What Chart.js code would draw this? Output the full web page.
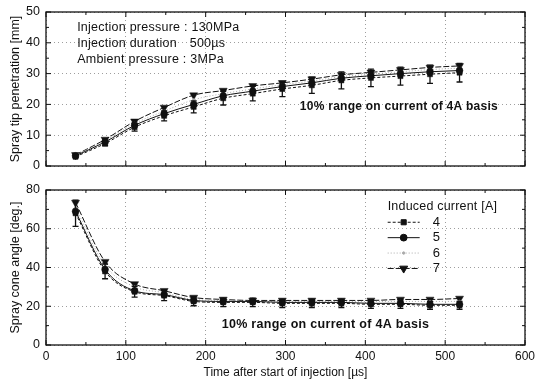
<!DOCTYPE html>
<html>
<head>
<meta charset="utf-8">
<script src="https://cdn.jsdelivr.net/npm/chart.js@4.4.0/dist/chart.umd.min.js"></script>
<style>
  html, body { margin: 0; padding: 0; background: #fff; }
  #wrap { position: relative; width: 535px; height: 380px; }
  canvas { position: absolute; left: 0; }
  #tipChart { top: 0; }
  #coneChart { top: 180px; }
</style>
</head>
<body>
<div id="wrap">
  <canvas id="tipChart" width="535" height="180"></canvas>
  <canvas id="coneChart" width="535" height="200"></canvas>
</div>
<script>
// time after start of injection [us]
const times = [37, 74, 111, 148, 185, 222, 259, 296, 333, 370, 407, 444, 481, 518];
const currents = ['4', '5', '6', '7'];

// spray tip penetration [mm]
const tip4 = [3.0, 7.3, 12.6, 16.3, 19.2, 22.0, 23.5, 25.0, 26.2, 27.8, 28.6, 29.2, 29.8, 30.3];
const tip5 = [3.3, 7.8, 13.2, 17.0, 20.0, 22.8, 24.3, 25.8, 27.0, 28.5, 29.3, 30.0, 30.6, 31.0];
const tip6 = [3.5, 8.2, 13.8, 17.8, 21.5, 23.5, 25.0, 26.4, 27.6, 29.0, 29.8, 30.6, 31.3, 31.8];
const tip7 = [3.6, 8.6, 14.5, 19.0, 23.0, 24.5, 26.0, 27.0, 28.2, 29.6, 30.4, 31.2, 32.0, 32.5];

// spray cone angle [deg.]
const cone4 = [68.0, 38.0, 27.5, 25.5, 22.5, 22.0, 22.0, 21.5, 21.5, 21.5, 21.0, 21.0, 20.5, 20.5];
const cone5 = [69.0, 39.0, 28.0, 26.0, 23.0, 22.5, 22.5, 22.0, 22.0, 22.0, 21.5, 21.5, 21.0, 21.0];
const cone6 = [71.0, 41.0, 30.0, 27.0, 23.5, 23.0, 22.5, 22.5, 22.5, 22.5, 22.5, 22.5, 22.5, 22.5];
const cone7 = [73.5, 43.0, 31.5, 28.0, 24.5, 23.5, 23.0, 23.0, 23.0, 23.0, 23.0, 23.5, 23.5, 24.0];

// whiskers: 10% range around the 4A series
const rangeFraction = 0.10;
const rangeSeries = 0;

const xTicks = [0, 100, 200, 300, 400, 500, 600];
const tipTicks = [0, 10, 20, 30, 40, 50];
const coneTicks = [0, 20, 40, 60, 80];

const FONT = "'Liberation Sans', Arial, Helvetica, sans-serif";
Chart.defaults.font.family = FONT;
Chart.defaults.color = '#111';

const styles = [
  { dash: [3, 2], pointStyle: 'rect', radius: 3.6, rotation: 0, color: '#111' },
  { dash: [], pointStyle: 'circle', radius: 3.4, rotation: 0, color: '#111' },
  { dash: [1, 2], pointStyle: 'circle', radius: 1.2, rotation: 0, color: '#aaa' },
  { dash: [6, 2], pointStyle: 'triangle', radius: 4.6, rotation: 180, color: '#111' }
];

function makeSets(series) {
  return series.map((vals, k) => ({
    label: currents[k],
    data: times.map((t, i) => ({ x: t, y: vals[i] })),
    borderColor: styles[k].color,
    backgroundColor: styles[k].color,
    borderWidth: 1,
    borderDash: styles[k].dash,
    pointStyle: styles[k].pointStyle,
    pointRadius: styles[k].radius,
    pointRotation: styles[k].rotation,
    pointBorderWidth: 0.5,
    cubicInterpolationMode: 'monotone',
    fill: false
  }));
}

// frame around the plot with inward major/minor tick marks on all sides
const framePlugin = {
  id: 'frame',
  afterDraw(chart) {
    const { ctx, chartArea: a, scales } = chart;
    ctx.save();
    ctx.strokeStyle = '#111';
    ctx.lineWidth = 1.3;
    ctx.strokeRect(a.left, a.top, a.right - a.left, a.bottom - a.top);
    ctx.lineWidth = 1;
    ctx.beginPath();
    const xs = scales.x, ys = scales.y;
    const xStep = xTicks[1] - xTicks[0];
    for (let v = xs.min; v <= xs.max; v += xStep / 2) {
      const px = xs.getPixelForValue(v);
      const len = (v % xStep === 0) ? 5 : 3;
      ctx.moveTo(px, a.bottom); ctx.lineTo(px, a.bottom - len);
      ctx.moveTo(px, a.top); ctx.lineTo(px, a.top + len);
    }
    const yStep = chart.options.scales.y.ticks.stepSize;
    for (let v = ys.min; v <= ys.max; v += yStep / 2) {
      const py = ys.getPixelForValue(v);
      const len = (v % yStep === 0) ? 5 : 3;
      ctx.moveTo(a.left, py); ctx.lineTo(a.left + len, py);
      ctx.moveTo(a.right, py); ctx.lineTo(a.right - len, py);
    }
    ctx.stroke();
    ctx.restore();
  }
};

// vertical whiskers showing the +/-10% range of the reference series
const errorBarPlugin = {
  id: 'errorBars',
  afterDatasetsDraw(chart) {
    const { ctx, scales: { x, y } } = chart;
    const ds = chart.data.datasets[rangeSeries];
    ctx.save();
    ctx.strokeStyle = '#111';
    ctx.lineWidth = 1.3;
    ds.data.forEach(p => {
      const px = x.getPixelForValue(p.x);
      const d = p.y * rangeFraction;
      const y1 = y.getPixelForValue(p.y - d);
      const y2 = y.getPixelForValue(p.y + d);
      ctx.beginPath();
      ctx.moveTo(px, y1); ctx.lineTo(px, y2);
      ctx.moveTo(px - 3, y1); ctx.lineTo(px + 3, y1);
      ctx.moveTo(px - 3, y2); ctx.lineTo(px + 3, y2);
      ctx.stroke();
    });
    ctx.restore();
  }
};

// free text placed in data coordinates
const notesPlugin = {
  id: 'notes',
  afterDraw(chart, args, opts) {
    const { ctx, scales: { x, y } } = chart;
    ctx.save();
    ctx.fillStyle = '#111';
    ctx.textBaseline = 'middle';
    (opts.items || []).forEach(n => {
      ctx.font = (n.bold ? 'bold ' : '') + n.size + 'px ' + FONT;
      ctx.letterSpacing = (n.spacing || 0) + 'px';
      ctx.fillText(n.text, x.getPixelForValue(n.x), y.getPixelForValue(n.y));
    });
    ctx.restore();
  }
};

// legend with line sample and marker, drawn inside the plot
const sampleLegendPlugin = {
  id: 'sampleLegend',
  afterDraw(chart, args, opts) {
    if (!opts.show) return;
    const { ctx, scales: { x, y } } = chart;
    const x0 = x.getPixelForValue(opts.x);
    let py = y.getPixelForValue(opts.y);
    ctx.save();
    ctx.fillStyle = '#111';
    ctx.textBaseline = 'middle';
    ctx.font = '12.5px ' + FONT;
    ctx.letterSpacing = '0.2px';
    ctx.fillText(opts.title, x0, py);
    ctx.letterSpacing = '0px';
    chart.data.datasets.forEach(ds => {
      py += opts.rowGap;
      ctx.strokeStyle = ds.borderColor;
      ctx.lineWidth = 1;
      ctx.setLineDash(ds.borderDash);
      ctx.beginPath();
      ctx.moveTo(x0, py); ctx.lineTo(x0 + 32, py);
      ctx.stroke();
      ctx.setLineDash([]);
      ctx.fillStyle = ds.backgroundColor;
      ctx.strokeStyle = ds.borderColor;
      Chart.helpers.drawPoint(ctx, {
        pointStyle: ds.pointStyle, radius: ds.pointRadius,
        rotation: ds.pointRotation, borderWidth: 0.5
      }, x0 + 16, py);
      ctx.fillStyle = '#111';
      ctx.font = '13px ' + FONT;
      ctx.fillText(ds.label, x0 + 45, py);
    });
    ctx.restore();
  }
};

function makeChart(id, series, yMax, yStep, yTitle, showX, notes, legend) {
  return new Chart(document.getElementById(id), {
    type: 'line',
    data: { datasets: makeSets(series) },
    plugins: [framePlugin, errorBarPlugin, notesPlugin, sampleLegendPlugin],
    options: {
      responsive: false,
      animation: false,
      layout: { padding: { top: showX ? 10 : 12, right: 10, left: 0, bottom: 0 } },
      scales: {
        x: {
          type: 'linear', min: 0, max: 600,
          afterBuildTicks: s => { s.ticks = xTicks.map(v => ({ value: v })); },
          afterFit: s => { s.height = showX ? 35 : 14; s.paddingLeft = 0; s.paddingRight = 0; },
          grid: { color: 'rgba(0,0,0,0.38)', lineWidth: 1, drawTicks: false },
          border: { display: false, dash: [1, 3] },
          ticks: { display: showX, padding: 4, font: { size: 12 }, color: '#111' },
          title: { display: showX, text: 'Time after start of injection [\u00b5s]', font: { size: 12 }, padding: { top: 2, bottom: 0 } }
        },
        y: {
          min: 0, max: yMax,
          afterBuildTicks: s => { s.ticks = (yMax === 50 ? tipTicks : coneTicks).map(v => ({ value: v })); },
          afterFit: s => { s.width = 46; s.paddingTop = 0; s.paddingBottom = 0; },
          grid: { color: 'rgba(0,0,0,0.38)', lineWidth: 1, drawTicks: false },
          border: { display: false, dash: [1, 3] },
          ticks: { stepSize: yStep, padding: 6, font: { size: 12.5 }, color: '#111' },
          title: { display: true, text: yTitle, font: { size: 12.5 }, padding: { top: 8, bottom: 0 } }
        }
      },
      plugins: {
        legend: { display: false },
        tooltip: { enabled: false },
        notes: { items: notes },
        sampleLegend: legend
      }
    }
  });
}

const tipChart = makeChart('tipChart', [tip4, tip5, tip6, tip7], 50, 10,
  'Spray tip penetration [mm]', false,
  [
    { text: 'Injection pressure : 130MPa', x: 39, y: 44.9, size: 12.5, spacing: 0.25 },
    { text: 'Injection duration', x: 39, y: 39.8, size: 12.5, spacing: 0.25 },
    { text: '500\u00b5s', x: 180, y: 39.8, size: 12.5, spacing: 0.25 },
    { text: 'Ambient pressure : 3MPa', x: 39, y: 34.7, size: 12.5, spacing: 0.25 },
    { text: '10% range on current of 4A basis', x: 318, y: 19.2, size: 12, bold: true, spacing: 0.25 }
  ],
  { show: false });

const coneChart = makeChart('coneChart', [cone4, cone5, cone6, cone7], 80, 20,
  'Spray cone angle [deg.]', true,
  [
    { text: '10% range on current of 4A basis', x: 220, y: 10.3, size: 12.5, bold: true, spacing: 0.3 }
  ],
  { show: true, title: 'Induced current [A]', x: 428, y: 71.3, rowGap: 15.4 });
</script>
</body>
</html>
